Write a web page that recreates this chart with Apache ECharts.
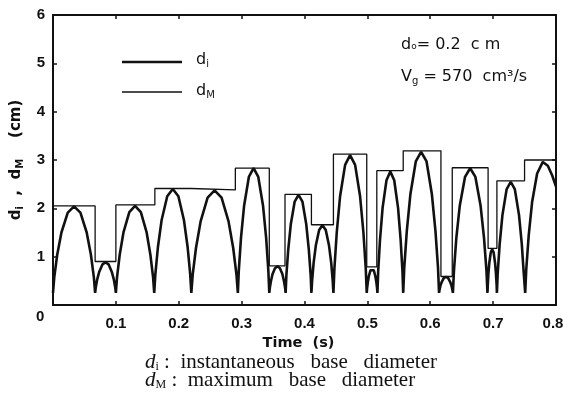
<!DOCTYPE html>
<html>
<head>
<meta charset="utf-8">
<script src="https://cdn.jsdelivr.net/npm/echarts@6/dist/echarts.min.js"></script>
<style>
  html, body { margin: 0; padding: 0; background: #fff; }
  #chart { width: 563px; height: 410px; }
</style>
</head>
<body>
<div id="chart"></div>
<script>
// instantaneous base diameter d_i (cm) vs time (s), one arch per line
const diTime = [
  0, 0.002, 0.0067, 0.0134, 0.0235, 0.0335, 0.0436, 0.0536, 0.0603, 0.065, 0.067,
  0.068, 0.0703, 0.0736, 0.0786, 0.0835, 0.0885, 0.0934, 0.0967, 0.099, 0.1,
  0.1018, 0.1061, 0.1122, 0.1214, 0.1305, 0.1397, 0.1488, 0.1549, 0.1592, 0.161,
  0.1628, 0.1669, 0.1728, 0.1817, 0.1905, 0.1994, 0.2082, 0.2141, 0.2182, 0.22,
  0.2222, 0.2274, 0.2348, 0.2459, 0.257, 0.2681, 0.2792, 0.2866, 0.2918, 0.294,
  0.2955, 0.299, 0.304, 0.3115, 0.319, 0.3265, 0.334, 0.339, 0.3425, 0.344,
  0.3448, 0.3466, 0.3492, 0.3531, 0.357, 0.3609, 0.3648, 0.3674, 0.3692, 0.37,
  0.3712, 0.3741, 0.3782, 0.3844, 0.3905, 0.3967, 0.4028, 0.4069, 0.4098, 0.411,
  0.4121, 0.4145, 0.418, 0.4233, 0.4285, 0.4338, 0.439, 0.4425, 0.4449, 0.446,
  0.4476, 0.4513, 0.4566, 0.4646, 0.4725, 0.4805, 0.4884, 0.4937, 0.4974, 0.499,
  0.4995, 0.5007, 0.5024, 0.505, 0.5075, 0.5101, 0.5126, 0.5143, 0.5155, 0.516,
  0.5172, 0.5201, 0.5242, 0.5304, 0.5365, 0.5427, 0.5488, 0.5529, 0.5558, 0.557,
  0.5587, 0.5627, 0.5684, 0.577, 0.5855, 0.5941, 0.6026, 0.6083, 0.6123, 0.614,
  0.6147, 0.6162, 0.6184, 0.6217, 0.625, 0.6283, 0.6316, 0.6338, 0.6353, 0.636,
  0.6377, 0.6415, 0.647, 0.6553, 0.6635, 0.6718, 0.68, 0.6855, 0.6894, 0.691,
  0.6915, 0.6925, 0.694, 0.6963, 0.6985, 0.7008, 0.703, 0.7045, 0.7056, 0.706,
  0.7073, 0.7104, 0.7148, 0.7214, 0.728, 0.7346, 0.7412, 0.7456, 0.7487, 0.751,
  0.7527, 0.7566, 0.762, 0.77, 0.779, 0.787, 0.794, 0.8
];
const diValue = [
  0.25, 0.57, 1.04, 1.50, 1.91, 2.04, 1.91, 1.50, 1.04, 0.57, 0.25,
  0.36, 0.53, 0.69, 0.84, 0.88, 0.84, 0.69, 0.53, 0.36, 0.25,
  0.57, 1.04, 1.51, 1.92, 2.05, 1.92, 1.51, 1.04, 0.57, 0.25,
  0.64, 1.20, 1.76, 2.25, 2.40, 2.25, 1.76, 1.20, 0.64, 0.25,
  0.63, 1.18, 1.73, 2.22, 2.37, 2.22, 1.73, 1.18, 0.63, 0.25,
  0.71, 1.39, 2.06, 2.65, 2.83, 2.65, 2.06, 1.39, 0.71, 0.25,
  0.35, 0.49, 0.64, 0.76, 0.80, 0.76, 0.64, 0.49, 0.35, 0.25,
  0.62, 1.14, 1.67, 2.14, 2.28, 2.14, 1.67, 1.14, 0.62, 0.25,
  0.50, 0.87, 1.23, 1.55, 1.65, 1.55, 1.23, 0.87, 0.50, 0.25,
  0.76, 1.50, 2.25, 2.90, 3.10, 2.90, 2.25, 1.50, 0.76, 0.25,
  0.34, 0.47, 0.60, 0.72, 0.75, 0.72, 0.60, 0.47, 0.34, 0.25,
  0.70, 1.35, 2.01, 2.58, 2.76, 2.58, 2.01, 1.35, 0.70, 0.25,
  0.78, 1.53, 2.29, 2.97, 3.17, 2.97, 2.29, 1.53, 0.78, 0.25,
  0.31, 0.40, 0.48, 0.56, 0.58, 0.56, 0.48, 0.40, 0.31, 0.25,
  0.71, 1.39, 2.06, 2.65, 2.83, 2.65, 2.06, 1.39, 0.71, 0.25,
  0.41, 0.65, 0.88, 1.09, 1.15, 1.09, 0.88, 0.65, 0.41, 0.25,
  0.66, 1.26, 1.86, 2.39, 2.55, 2.39, 1.86, 1.26, 0.66, 0.25,
  0.74, 1.44, 2.13, 2.72, 2.96, 2.88, 2.68, 2.45
];

// maximum base diameter d_M: step levels starting at each time
const dMStart = [0, 0.067, 0.1, 0.162, 0.22, 0.29, 0.344, 0.369, 0.411,
  0.446, 0.499, 0.515, 0.557, 0.617, 0.635, 0.692, 0.706, 0.75, 0.8];
const dMValue = [2.05, 0.9, 2.07, 2.41, 2.38, 2.83, 0.81, 2.29, 1.66,
  3.12, 0.79, 2.78, 3.19, 0.59, 2.84, 1.17, 2.57, 3.0, 3.0];

const xTicks = [0, 0.1, 0.2, 0.3, 0.4, 0.5, 0.6, 0.7, 0.8];
const yTicks = [0, 1, 2, 3, 4, 5, 6];

const ink = '#111';
const labelFont = 'Liberation Sans';
const wideFont = 'DejaVu Sans';
const serif = 'Liberation Serif';

const chart = echarts.init(document.getElementById('chart'));

const axisBase = {
  type: 'value',
  axisLine: { show: true, onZero: false, lineStyle: { color: ink, width: 2 } },
  axisTick: { show: true, inside: true, length: 4, lineStyle: { color: ink, width: 1.5 } },
  splitLine: { show: false },
};

const captionRich = {
  d: { fontFamily: serif, fontStyle: 'italic', fontSize: 21, fill: ink },
  s: { fontFamily: serif, fontSize: 12, fill: ink, padding: [9, 0, 0, 0] },
  t: { fontFamily: serif, fontSize: 21, fill: ink },
};

const option = {
  backgroundColor: '#fff',
  animation: false,
  grid: { left: 53, right: 7, top: 15, bottom: 105, containLabel: false, outerBoundsMode: 'none' },
  xAxis: [
    {
      ...axisBase,
      min: xTicks[0],
      max: xTicks[xTicks.length - 1],
      interval: 0.1,
      position: 'bottom',
      axisLabel: {
        margin: 11,
        color: ink,
        fontFamily: labelFont,
        fontWeight: 'bold',
        fontSize: 15,
        formatter: (v) => (v === 0 ? '' : v === 0.8 ? '{r|0.8}' : v.toFixed(1)),
        rich: { r: { fontFamily: labelFont, fontWeight: 'bold', fontSize: 15, color: ink, padding: [0, 6, 0, 0] } },
      },
      name: 'Time  (s)',
      nameLocation: 'middle',
      nameGap: 21,
      nameTextStyle: { color: ink, fontFamily: wideFont, fontWeight: 'bold', fontSize: 14.5, padding: [0, 12, 0, 0] },
    },
    {
      ...axisBase,
      min: xTicks[0],
      max: xTicks[xTicks.length - 1],
      interval: 0.1,
      position: 'top',
      axisLabel: { show: false },
    },
  ],
  yAxis: [
    {
      ...axisBase,
      min: yTicks[0],
      max: yTicks[yTicks.length - 1],
      interval: 1,
      position: 'left',
      axisLabel: {
        margin: 8,
        color: ink,
        fontFamily: labelFont,
        fontWeight: 'bold',
        fontSize: 15,
        formatter: (v) => (v === 0 ? '' : String(v)),
      },
      name: '{b|d}{s|i}{b|  ,  d}{s|M}{b|    (cm)}',
      nameLocation: 'middle',
      nameGap: 28,
      nameRotate: 90,
      nameTextStyle: {
        rich: {
          b: { fontFamily: wideFont, fontWeight: 'bold', fontSize: 15, color: ink },
          s: { fontFamily: wideFont, fontWeight: 'bold', fontSize: 10, color: ink, padding: [8, 0, 0, 0] },
        },
      },
    },
    {
      ...axisBase,
      min: yTicks[0],
      max: yTicks[yTicks.length - 1],
      interval: 1,
      position: 'right',
      axisLabel: { show: false },
    },
  ],
  series: [
    {
      name: 'di',
      type: 'line',
      xAxisIndex: 0,
      yAxisIndex: 0,
      data: diTime.map((t, i) => [t, diValue[i]]),
      symbol: 'none',
      lineStyle: { color: ink, width: 2.6 },
      z: 3,
    },
    {
      name: 'dM',
      type: 'line',
      xAxisIndex: 0,
      yAxisIndex: 0,
      step: 'end',
      data: dMStart.map((t, i) => [t, dMValue[i]]),
      symbol: 'none',
      lineStyle: { color: ink, width: 1.3 },
      z: 2,
    },
  ],
  graphic: [
    // key
    { type: 'line', shape: { x1: 122, y1: 62, x2: 182, y2: 62 }, style: { stroke: ink, lineWidth: 2.6 } },
    { type: 'line', shape: { x1: 122, y1: 92, x2: 182, y2: 92 }, style: { stroke: ink, lineWidth: 1.3 } },
    {
      type: 'text',
      left: 196,
      top: 52,
      style: {
        text: '{b|d}{s|i}',
        rich: {
          b: { fontFamily: wideFont, fontSize: 16, fill: ink },
          s: { fontFamily: wideFont, fontSize: 10, fill: ink, padding: [8, 0, 0, 0] },
        },
      },
    },
    {
      type: 'text',
      left: 196,
      top: 83,
      style: {
        text: '{b|d}{s|M}',
        rich: {
          b: { fontFamily: wideFont, fontSize: 16, fill: ink },
          s: { fontFamily: wideFont, fontSize: 10, fill: ink, padding: [8, 0, 0, 0] },
        },
      },
    },
    {
      type: 'text',
      left: 36,
      top: 309,
      style: { text: '0', fill: ink, font: 'bold 15px "Liberation Sans"' },
    },
    {
      type: 'text',
      left: 401,
      top: 37,
      style: {
        text: '{b|d}{o|o}{b|= 0.2  c m}',
        rich: {
          b: { fontFamily: wideFont, fontSize: 16, fill: ink },
          o: { fontFamily: wideFont, fontSize: 9, fill: ink, padding: [4, 0, 0, 0] },
        },
      },
    },
    {
      type: 'text',
      left: 401,
      top: 69,
      style: {
        text: '{b|V}{s|g}{b| = 570  cm³/s}',
        rich: {
          b: { fontFamily: wideFont, fontSize: 16, fill: ink },
          s: { fontFamily: wideFont, fontSize: 10, fill: ink, padding: [8, 0, 0, 0] },
        },
      },
    },
    {
      type: 'text',
      left: 145,
      top: 352,
      style: { text: '{d|d}{s|i}{t| :  instantaneous   base   diameter}', rich: captionRich },
    },
    {
      type: 'text',
      left: 145,
      top: 370,
      style: { text: '{d|d}{s|M}{t| :  maximum   base   diameter}', rich: captionRich },
    },
  ],
};

chart.setOption(option);
</script>
</body>
</html>
